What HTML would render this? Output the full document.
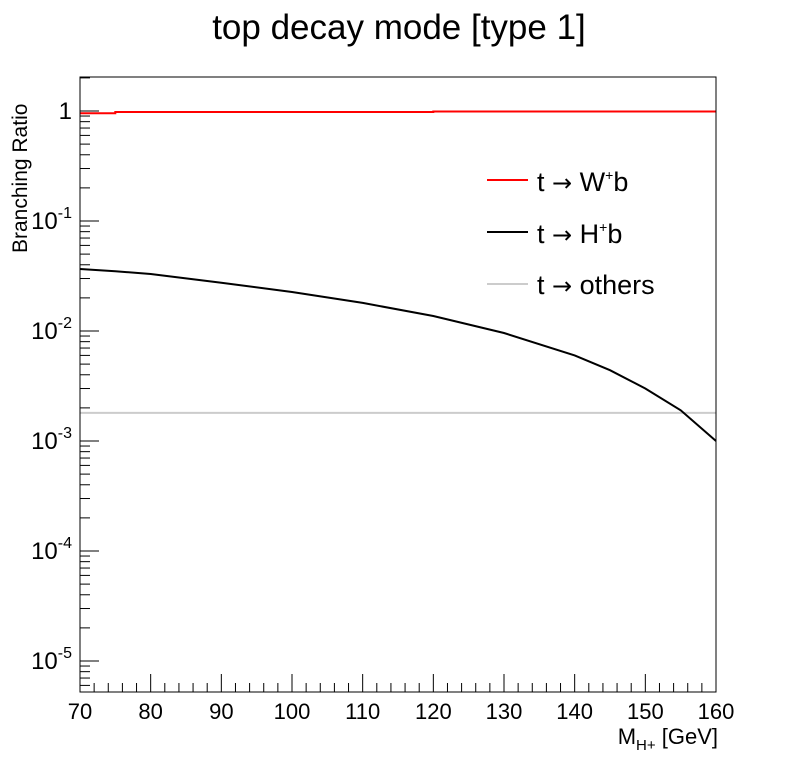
<!DOCTYPE html>
<html><head><meta charset="utf-8"><style>
body{margin:0;background:#fff;}
svg text{font-family:"Liberation Sans",sans-serif;}
</style></head><body>
<svg id="chart" width="798" height="771" xmlns="http://www.w3.org/2000/svg">
<rect width="798" height="771" fill="#fff"/>
<text x="399" y="39" font-size="35" text-anchor="middle">top decay mode [type 1]</text>
<g id="axes"></g>
<g id="series"></g>
<rect x="80" y="77" width="636" height="615" fill="none" stroke="#000" stroke-width="1"/>
<text transform="translate(27,253) rotate(-90)" font-size="21">Branching Ratio</text>
<text x="718" y="744" font-size="22" text-anchor="end">M<tspan font-size="15" dy="6">H+</tspan><tspan dy="-6"> [GeV]</tspan></text>
<g>
<line x1="487" y1="180" x2="528" y2="180" stroke="#f00" stroke-width="2"/>
<text x="537" y="191" font-size="27">t <tspan font-family="DejaVu Sans" font-size="24">→</tspan> W<tspan font-size="14" dy="-11">+</tspan><tspan dy="11">b</tspan></text>
<line x1="487" y1="232" x2="528" y2="232" stroke="#000" stroke-width="2"/>
<text x="537" y="243" font-size="27">t <tspan font-family="DejaVu Sans" font-size="24">→</tspan> H<tspan font-size="14" dy="-11">+</tspan><tspan dy="11">b</tspan></text>
<line x1="487" y1="284" x2="528" y2="284" stroke="#ccc" stroke-width="2"/>
<text x="537" y="294" font-size="27">t <tspan font-family="DejaVu Sans" font-size="24">→</tspan> others</text>
</g>
</svg>
<script>
const massPoints=[70,75,80,90,100,110,120,130,140,145,150,155,160];
const brWb=[0.955,0.98,0.98,0.98,0.98,0.98,0.99,0.99,0.99,0.99,0.99,0.99,0.99];
const brHb=[0.0366,0.035,0.033,0.0275,0.0226,0.018,0.0137,0.0096,0.006,0.0044,0.003,0.0019,0.00100];
const brOthers=[0.0018,0.0018,0.0018,0.0018,0.0018,0.0018,0.0018,0.0018,0.0018,0.0018,0.0018,0.0018,0.0018];
const xTicks=[70,80,90,100,110,120,130,140,150,160];
const yDecades=[0,-1,-2,-3,-4,-5];
const NS="http://www.w3.org/2000/svg";
const X=v=>80+(v-70)*(636/90);
const Y=v=>111-Math.log10(v)*110;
const ax=document.getElementById('axes'),sg=document.getElementById('series');
function mk(t,a,p){const e=document.createElementNS(NS,t);for(const k in a)e.setAttribute(k,a[k]);p.appendChild(e);return e;}
for(let v=70;v<=160;v+=2){const x=X(v);const major=v%10===0;
const l=mk('line',{x1:x,x2:x,y1:692,y2:major?674:683,stroke:'#000'},ax);

}
xTicks.forEach(v=>{const t=mk('text',{x:X(v),y:719,'font-size':22,'text-anchor':'middle'},ax);t.textContent=v;

});
for(let d=-6;d<=0;d++){for(let m=1;m<=9;m++){const v=m*Math.pow(10,d);const y=Y(v);if(y<77||y>692)continue;
const l=mk('line',{x1:80,x2:m===1?99:90,y1:y,y2:y,stroke:'#000'},ax);

}}
yDecades.forEach(d=>{const y=Y(Math.pow(10,d));const t=mk('text',{x:72,y:y+8,'font-size':24,'text-anchor':'end'},ax);


if(d===0){t.textContent='1';}else{t.textContent='10';const s=mk('tspan',{dy:-11,'font-size':16},t);s.textContent=String(d);}});
function path(vals,color,name,step){let d='';vals.forEach((v,i)=>{const x=X(massPoints[i]).toFixed(1),y=Y(v).toFixed(1);
if(i===0)d+='M'+x+','+y;else if(step){d+='H'+x+'V'+y;}else d+='L'+x+','+y;});
const p=mk('path',{d:d,fill:'none',stroke:color,'stroke-width':2},sg);

}
path(brOthers,'#ccc','series-others');
path(brHb,'#000','series-hb');
path(brWb,'#f00','series-wb',true);
</script>
</body></html>
